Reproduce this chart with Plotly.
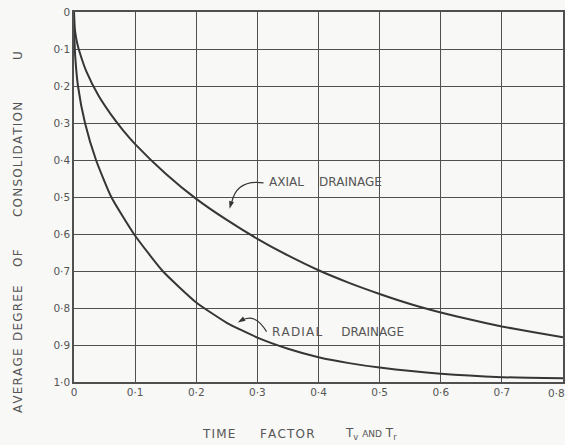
import plotly.graph_objects as go

# Time factor (T_v, T_r) and average degree of consolidation U
axial_T = [0.0, 0.001, 0.003, 0.006, 0.01, 0.02, 0.04, 0.06, 0.08, 0.1, 0.15, 0.2, 0.25, 0.3, 0.35, 0.4, 0.45, 0.5, 0.55, 0.6, 0.65, 0.7, 0.75, 0.8]
axial_U = [0.0, 0.04, 0.065, 0.09, 0.113, 0.16, 0.226, 0.276, 0.319, 0.357, 0.437, 0.505, 0.562, 0.613, 0.658, 0.698, 0.732, 0.762, 0.789, 0.812, 0.832, 0.85, 0.865, 0.879]

radial_T = [0.0, 0.0005, 0.002, 0.0065, 0.018, 0.036, 0.061, 0.098, 0.145, 0.2, 0.25, 0.3, 0.35, 0.4, 0.45, 0.5, 0.6, 0.7, 0.8]
radial_U = [0.0, 0.06, 0.12, 0.2, 0.3, 0.4, 0.5, 0.6, 0.7, 0.785, 0.84, 0.88, 0.91, 0.933, 0.949, 0.961, 0.978, 0.987, 0.99]

x_ticks = [0, 0.1, 0.2, 0.3, 0.4, 0.5, 0.6, 0.7, 0.8]
x_tick_labels = ["0", "0·1", "0·2", "0·3", "0·4", "0·5", "0·6", "0·7", "0·8"]
y_ticks = [0, 0.1, 0.2, 0.3, 0.4, 0.5, 0.6, 0.7, 0.8, 0.9, 1.0]
y_tick_labels = ["0", "0·1", "0·2", "0·3", "0·4", "0·5", "0·6", "0·7", "0·8", "0·9", "1·0"]

y_title_words = ["AVERAGE", "DEGREE", "OF", "CONSOLIDATION", "U"]
x_title_words = ["TIME", "FACTOR"]
x_title_symbol = "T<sub>v</sub> <span style='font-size:9px'>AND</span> T<sub>r</sub>"

ink = "#363636"
grid = "#505050"
txt = "#555555"
bg = "#f8f8f6"
font = "DejaVu Sans"

W, H = 565, 445
L, R, T, B = 74, 2, 12, 63


def spaced(word):
    return "\u200a".join(word)


def px_x(px):
    return (px - L) / (W - L - R)


def px_y(py):
    return (H - B - py) / (H - T - B)


fig = go.Figure()
fig.add_trace(go.Scatter(x=axial_T, y=axial_U, mode="lines", line=dict(color=ink, width=2, shape="spline", smoothing=0.5), hoverinfo="skip"))
fig.add_trace(go.Scatter(x=radial_T, y=radial_U, mode="lines", line=dict(color=ink, width=2, shape="spline", smoothing=0.5), hoverinfo="skip"))

nb = "\u00a0"
fig.add_annotation(x=0.316, y=0.459, xref="x", yref="y", text="AXIAL" + nb * 4 + "DRAINAGE", showarrow=False,
                   xanchor="left", yanchor="middle", font=dict(family=font, size=12, color=txt))
fig.add_annotation(x=0.321, y=0.865, xref="x", yref="y", text=spaced("RADIAL") + nb * 5 + "DRAINAGE", showarrow=False,
                   xanchor="left", yanchor="middle", font=dict(family=font, size=12, color=txt))

# curved leaders
fig.add_shape(type="path", xref="x", yref="y", path="M 0.31,0.462 Q 0.266,0.452 0.258,0.515",
              line=dict(color=ink, width=1.2))
fig.add_shape(type="path", xref="x", yref="y", path="M 0.315,0.864 Q 0.296,0.812 0.274,0.834",
              line=dict(color=ink, width=1.2))
# arrowheads
fig.add_trace(go.Scatter(x=[0.2545, 0.268], y=[0.532, 0.8395], mode="markers",
                         marker=dict(symbol="arrow", size=8, angle=[195, 238], color=ink, line=dict(width=0)),
                         hoverinfo="skip"))

# last x tick label, nudged left so it stays inside the page (as in the original)
fig.add_annotation(xref="paper", yref="paper", x=px_x(556), y=px_y(393), text=x_tick_labels[-1],
                   showarrow=False, xanchor="center", yanchor="middle",
                   font=dict(family=font, size=10.5, color=txt))

# axis titles, word by word
y_word_centres = [381, 313, 258, 160, 56]
for word, py in zip(y_title_words, y_word_centres):
    fig.add_annotation(xref="paper", yref="paper", x=px_x(18), y=px_y(py),
                       xanchor="center", yanchor="middle",
                       text=spaced(word), textangle=-90, showarrow=False,
                       font=dict(family=font, size=12, color=txt))
x_word_centres = [218.5, 287.5]
for word, px in zip(x_title_words, x_word_centres):
    fig.add_annotation(xref="paper", yref="paper", x=px_x(px), y=px_y(434),
                       text=spaced(word), showarrow=False, xanchor="center", yanchor="middle",
                       font=dict(family=font, size=12, color=txt))
fig.add_annotation(xref="paper", yref="paper", x=px_x(343), y=px_y(434),
                   text=x_title_symbol, showarrow=False, xanchor="left", yanchor="middle",
                   font=dict(family=font, size=12, color=txt))

fig.update_layout(
    width=W, height=H,
    margin=dict(l=L, r=R, t=T, b=B),
    paper_bgcolor=bg, plot_bgcolor=bg,
    showlegend=False,
    xaxis=dict(range=[0, 0.8], tickvals=x_ticks[:-1], ticktext=x_tick_labels[:-1], showgrid=True, gridcolor=grid, gridwidth=1,
               showline=True, linecolor=grid, linewidth=1.5, mirror=True, zeroline=False, ticks="",
               automargin=False, tickfont=dict(family=font, size=10.5, color=txt)),
    yaxis=dict(range=[1.0, 0.0], tickvals=y_ticks, ticktext=y_tick_labels, showgrid=True, gridcolor=grid, gridwidth=1,
               showline=True, linecolor=grid, linewidth=1.5, mirror=True, zeroline=False, ticks="",
               automargin=False, ticklabeloverflow="allow", tickfont=dict(family=font, size=10.5, color=txt)),
)

fig.write_html("out.html", config={"displayModeBar": False},
               post_script="document.body.style.margin='0';document.body.style.background='%s';" % bg)
